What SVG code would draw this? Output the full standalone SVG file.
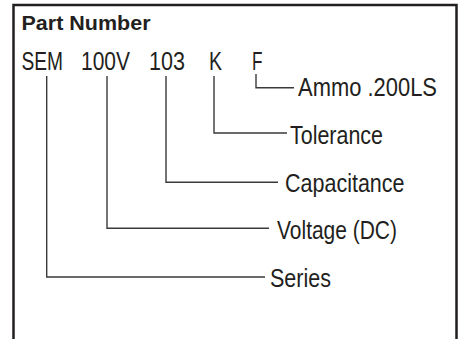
<svg xmlns="http://www.w3.org/2000/svg" width="461" height="339" viewBox="0 0 461 339">
<style>
.frame{fill:none;stroke:#231f20;stroke-width:2.5}
.code{font-family:"Liberation Sans",Arial,sans-serif;font-size:26px;fill:#231f20}
.lbl{font-family:"Liberation Sans",Arial,sans-serif;font-size:25px;fill:#231f20}
.title{font-family:"Liberation Sans",Arial,sans-serif;font-size:21px;font-weight:bold;fill:#231f20}
.conn{fill:none;stroke:#3a3a3a;stroke-width:1.4}
</style>
<rect width="461" height="339" fill="#fff"/>
<path class="frame" d="M13.5 345 V5 H456.5 V345"/>
<text class="title" x="21.5" y="30" textLength="129" lengthAdjust="spacingAndGlyphs">Part Number</text>
<g id="code">
<text class="code" x="21.5" y="69.5" textLength="41.5" lengthAdjust="spacingAndGlyphs">SEM</text>
<text class="code" x="81" y="69.5" textLength="49" lengthAdjust="spacingAndGlyphs">100V</text>
<text class="code" x="149" y="69.5" textLength="36" lengthAdjust="spacingAndGlyphs">103</text>
<text class="code" x="209" y="69.5" textLength="13" lengthAdjust="spacingAndGlyphs">K</text>
<text class="code" x="252" y="69.5" textLength="10.5" lengthAdjust="spacingAndGlyphs">F</text>
</g>
<g id="connectors">
<path class="conn" d="M256 74 V87.7 H294"/>
<path class="conn" d="M214 76 V133 H287"/>
<path class="conn" d="M166 76 V182.3 H278"/>
<path class="conn" d="M107 76 V228.3 H269"/>
<path class="conn" d="M46.7 76 V277 H265"/>
</g>
<g id="ammo"><text class="lbl" x="298" y="95.5" textLength="139" lengthAdjust="spacingAndGlyphs">Ammo .200LS</text></g>
<g id="tolerance"><text class="lbl" x="290" y="143.5" textLength="93" lengthAdjust="spacingAndGlyphs">Tolerance</text></g>
<g id="capacitance"><text class="lbl" x="285" y="192" textLength="119.5" lengthAdjust="spacingAndGlyphs">Capacitance</text></g>
<g id="voltage"><text class="lbl" x="277" y="239" textLength="120" lengthAdjust="spacingAndGlyphs">Voltage (DC)</text></g>
<g id="series"><text class="lbl" x="270" y="287" textLength="61" lengthAdjust="spacingAndGlyphs">Series</text></g>
</svg>
